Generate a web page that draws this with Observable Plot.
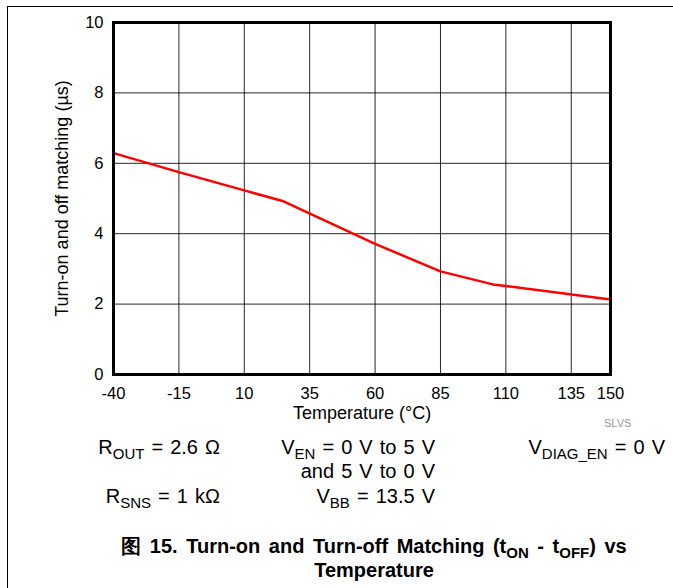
<!DOCTYPE html>
<html>
<head>
<meta charset="utf-8">
<script src="https://cdn.jsdelivr.net/npm/d3@7"></script>
<script src="https://cdn.jsdelivr.net/npm/@observablehq/plot@0.6"></script>
<style>
  html, body { margin: 0; padding: 0; background: #fff; }
  #wrap { position: relative; width: 673px; height: 588px; overflow: hidden; font-family: "Liberation Sans", Arial, sans-serif; color: #000; }
  #border { position: absolute; left: 7px; top: 6px; width: 700px; height: 600px; border-top: 1px solid #000; border-left: 1px solid #000; }
  #chart { position: absolute; left: 0; top: 0; }
  .t { position: absolute; font-size: 20px; word-spacing: 1.5px; white-space: nowrap; line-height: 1; }
  .t sub, .title sub { font-size: 0.75em; vertical-align: -0.3em; line-height: 0; word-spacing: 0; }
  .r { text-align: right; }
  .title { position: absolute; left: 0; width: 748px; text-align: center; font-weight: bold; font-size: 20px; line-height: 1; white-space: nowrap; }
</style>
</head>
<body>
<div id="wrap">
  <div id="border"></div>
  <div id="chart"></div>
  <div class="t" style="left:604px; top:418px; font-size:11px; color:#999; word-spacing:0;">SLVS</div>
  <div class="t r" style="right:453px; top:437px;">R<sub>OUT</sub> = 2.6 Ω</div>
  <div class="t r" style="right:238px; top:437px;">V<sub>EN</sub> = 0 V to 5 V</div>
  <div class="t r" style="right:238px; top:461px;">and 5 V to 0 V</div>
  <div class="t r" style="right:8px; top:437px;">V<sub>DIAG_EN</sub> = 0 V</div>
  <div class="t r" style="right:453px; top:486px;">R<sub>SNS</sub> = 1 kΩ</div>
  <div class="t r" style="right:238px; top:486px;">V<sub>BB</sub> = 13.5 V</div>
  <div class="title" style="top:536px; word-spacing:3px;">图 15. Turn-on and Turn-off Matching (t<sub>ON</sub> - t<sub>OFF</sub>) vs</div>
  <div class="title" style="top:560px;">Temperature</div>
</div>
<script>
const temperature = [-40, -15, 10, 25, 60, 85, 105, 150];
const matching = [6.29, 5.75, 5.23, 4.92, 3.71, 2.93, 2.56, 2.13];
const xTicks = [-40, -15, 10, 35, 60, 85, 110, 135, 150];
const yTicks = [0, 2, 4, 6, 8, 10];
const xLabel = "Temperature (°C)";
const yLabel = "Turn-on and off matching (µs)";

const data = temperature.map((t, i) => ({t, v: matching[i]}));

const chart = Plot.plot({
  width: 673,
  height: 430,
  marginLeft: 113,
  marginRight: 63,
  marginTop: 22,
  marginBottom: 56,
  style: {fontFamily: "'Liberation Sans', Arial, sans-serif", fontSize: "16.5px", color: "#000", background: "transparent"},
  x: {domain: [-40, 150]},
  y: {domain: [0, 10]},
  marks: [
    Plot.gridX(xTicks, {stroke: "#000", strokeOpacity: 0.85, strokeWidth: 1}),
    Plot.gridY(yTicks, {stroke: "#000", strokeOpacity: 0.85, strokeWidth: 1}),
    Plot.axisX(xTicks, {tickSize: 0, tickPadding: 13, tickFormat: d => String(d), label: null}),
    Plot.axisY(yTicks, {tickSize: 0, tickPadding: 10, tickFormat: d => String(d), label: null}),
    Plot.text([xLabel], {frameAnchor: "bottom", text: d => d, dy: 39, fontSize: 18, textAnchor: "middle", lineAnchor: "middle"}),
    Plot.text([yLabel], {frameAnchor: "left", text: d => d, dx: -51, rotate: -90, fontSize: 18, textAnchor: "middle", lineAnchor: "middle"}),
    Plot.line(data, {x: "t", y: "v", stroke: "#ff0000", strokeWidth: 2.5}),
    Plot.frame({stroke: "#000", strokeWidth: 3})
  ]
});
document.getElementById("chart").appendChild(chart);
</script>
</body>
</html>
